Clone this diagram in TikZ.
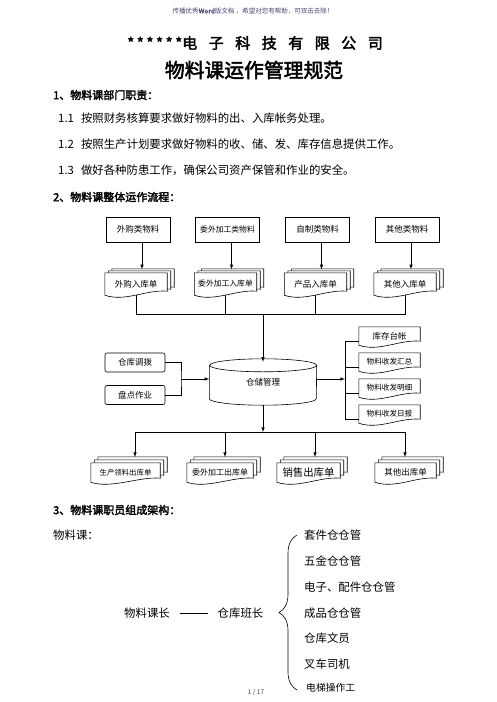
\documentclass[tikz,border=0pt]{standalone}
\usepackage{fontspec}
\setmainfont{Noto Sans CJK SC}[AutoFakeBold=2.5]
\usetikzlibrary{positioning,decorations.pathreplacing}
\definecolor{tipblue}{RGB}{70,70,120}
\pgfdeclarelayer{bg}
\pgfsetlayers{bg,main}
\tikzstyle{hd}=[font=\fontsize{6.5}{8}\selectfont,text=tipblue,inner sep=0pt]
\tikzstyle{bd}=[font=\fontsize{11.4}{14}\selectfont,inner sep=0pt]
\tikzstyle{hx}=[font=\fontsize{11}{13}\selectfont\bfseries,inner sep=0pt]
\tikzstyle{bx}=[draw,semithick,minimum width=64pt,minimum height=25pt,inner sep=0pt,font=\fontsize{8.5}{10}\selectfont]
\tikzstyle{rbx}=[bx,rounded corners=2pt,minimum width=60pt,minimum height=19pt]
\tikzstyle{doc}=[inner sep=0pt,minimum width=62pt,minimum height=22pt,font=\fontsize{8.5}{10}\selectfont]
\tikzstyle{cy}=[inner sep=0pt,minimum width=107pt,minimum height=46pt,font=\fontsize{8.5}{10}\selectfont]
\tikzstyle{arr}=[->,>=latex,semithick]
% one sheet of a document shape, shifted by #2,#3
\newcommand{\docpath}[3]{%
  \draw[fill=white,semithick] ([xshift=#2,yshift=#3]#1.north west) -- ([xshift=#2,yshift=#3]#1.north east)
    -- ([xshift=#2,yshift=#3+4pt]#1.south east)
    .. controls ([xshift=#2-20pt,yshift=#3+6pt]#1.south east) and ([xshift=#2+20pt,yshift=#3-7pt]#1.south west)
    .. ([xshift=#2,yshift=#3]#1.south west) -- cycle;}
\newcommand{\mdoc}[3]{%
  \begin{pgfonlayer}{bg}
    \docpath{#1}{#2*2}{#3*2}
    \docpath{#1}{#2}{#3}
    \docpath{#1}{0pt}{0pt}
  \end{pgfonlayer}}
\newcommand{\st}{*\hspace{2.6pt}}

\begin{document}
\begin{tikzpicture}[x=1pt,y=-1pt]
        \begin{pgfonlayer}{bg}
            \path[fill=white,use as bounding box] (0,0) rectangle (496,702);
        \end{pgfonlayer}
        \node[hd] (hdr) at (253,11) {传播优秀\textbf{Word}版文档 ，希望对您有帮助，可双击去除！};
        \node[font=\fontsize{15}{18}\selectfont\bfseries,inner sep=0pt] (t1) at (255,43)
            {\st\st\st\st\st*电\hspace{11.5pt}子\hspace{11.5pt}科\hspace{11.5pt}技\hspace{11.5pt}有\hspace{11.5pt}限\hspace{11.5pt}公\hspace{11.5pt}司};
        \node[font=\fontsize{19.8}{22}\selectfont\bfseries,inner sep=0pt] (t2) at (254,70) {物料课运作管理规范};
        \node[hx,anchor=west] (h1) at (53,95) {1、物料课部门职责：};
        \node[bd,anchor=west] (l1) at (58,118) {1.1\hspace{7pt}按照财务核算要求做好物料的出、入库帐务处理。};
        \node[bd,anchor=west] (l2) at (58,144) {1.2\hspace{7pt}按照生产计划要求做好物料的收、储、发、库存信息提供工作。};
        \node[bd,anchor=west] (l3) at (58,170) {1.3\hspace{7pt}做好各种防患工作，确保公司资产保管和作业的安全。};
        \node[hx,anchor=west] (h2) at (53,197) {2、物料课整体运作流程：};

        \node[bx] (wg) at (138,229.5) {外购类物料};
        \node[bx,font=\fontsize{7.8}{10}\selectfont] (ww) at (227.5,229.5) {委外加工类物料};
        \node[bx] (zz) at (317.5,229.5) {自制类物料};
        \node[bx] (qt) at (407,229.5) {其他类物料};

        \node[doc] (d1) at (136,284) {外购入库单};
        \node[doc,font=\fontsize{7.8}{10}\selectfont] (d2) at (225.5,284) {委外加工入库单};
        \node[doc] (d3) at (315.5,284) {产品入库单};
        \node[doc] (d4) at (405,284) {其他入库单};
        \foreach \d in {d1,d2,d3,d4} \mdoc{\d}{3.5pt}{2pt};
        \draw[arr] ([xshift=4pt]wg.south) -- ++(0,27);
        \draw[arr] ([xshift=4pt]ww.south) -- ++(0,27);
        \draw[arr] ([xshift=4pt]zz.south) -- ++(0,27);
        \draw[arr] ([xshift=4pt]qt.south) -- ++(0,27);

        \coordinate (jm) at (263,314);
        \draw[semithick] (d1.south) -- (d1.south |- jm) -- (d4.south |- jm) -- (d4.south);
        \draw[semithick] (d2.south) -- (d2.south |- jm);
        \draw[semithick] (d3.south) -- (d3.south |- jm);

        \node[cy] (cyl) at (263,382) {仓储管理};
        \draw[semithick] ([yshift=-6.5pt]cyl.north west) -- ([yshift=6.5pt]cyl.south west)
            arc[start angle=180,end angle=360,x radius=53.5pt,y radius=6.5pt]
            -- ([yshift=-6.5pt]cyl.north east)
            arc[start angle=0,end angle=360,x radius=53.5pt,y radius=6.5pt];
        \draw[arr] (jm) -- ([yshift=-3pt]cyl.north);

        \node[rbx] (db) at (135,362.5) {仓库调拨};
        \node[rbx] (pd) at (135,395) {盘点作业};
        \coordinate (jl) at (181,379);
        \draw[semithick] (db.east) -| (jl) |- (pd.east);
        \draw[arr] (jl) -- (jl -| cyl.west);

        \node[doc,minimum width=61pt,minimum height=18pt] (r1) at (389.5,336) {库存台帐};
        \node[doc,minimum width=61pt,minimum height=18pt,font=\fontsize{7.6}{10}\selectfont] (r2) at (389.5,362) {物料收发汇总};
        \node[doc,minimum width=61pt,minimum height=18pt,font=\fontsize{7.6}{10}\selectfont] (r3) at (389.5,388) {物料收发明细};
        \node[doc,minimum width=61pt,minimum height=18pt,font=\fontsize{7.6}{10}\selectfont] (r4) at (389.5,414) {物料收发日报};
        \begin{pgfonlayer}{bg}
            \foreach \r in {r1,r2,r3,r4} \docpath{\r}{0pt}{0pt};
        \end{pgfonlayer}
        \coordinate (jr) at (345,379);
        \draw[arr] (jr -| cyl.east) -- (jr);
        \draw[semithick] ([yshift=-5pt]r1.west) -- ++(-14,0) |- ([yshift=-5pt]r4.west);
        \draw[semithick] ([yshift=-5pt]r2.west) -- ++(-14,0);
        \draw[semithick] ([yshift=-5pt]r3.west) -- ++(-14,0);

        \coordinate (jb) at (263,432);
        \draw[arr] (cyl.south) -- (jb);
        \coordinate (b1) at (135,432);
        \coordinate (b2) at (225,432);
        \coordinate (b3) at (315,432);
        \coordinate (b4) at (405,432);
        \draw[semithick] (b1) -- (b4);
        \foreach \b in {b1,b2,b3,b4} \draw[arr] (\b) -- ++(0,25);
        \node[doc,minimum width=69pt,minimum height=19pt,font=\fontsize{7.4}{10}\selectfont] (o1) at (125.5,472.5) {生产领料出库单};
        \node[doc,minimum width=66pt,minimum height=19pt,font=\fontsize{8}{10}\selectfont] (o2) at (220,472.5) {委外加工出库单};
        \node[doc,minimum width=63pt,minimum height=19pt,font=\fontsize{10.4}{12}\selectfont] (o3) at (308.5,472.5) {销售出库单};
        \node[doc,minimum width=61pt,minimum height=19pt] (o4) at (405.5,472.5) {其他出库单};
        \foreach \o in {o1,o2,o3,o4} \mdoc{\o}{3.5pt}{3pt};

        \node[hx,anchor=west] (h3) at (53,510) {3、物料课职员组成架构：};
        \node[bd,anchor=west] (wk) at (53,535) {物料课：};
        \node[bd,inner xsep=9.5pt] (kz) at (147,613) {物料课长};
        \node[bd,inner xsep=9.5pt] (bz) at (240.5,613) {仓库班长};
        \draw[semithick] (kz) -- (bz);
        \coordinate (bt) at (297,535);
        \coordinate (bb) at (297,690);
        \draw[semithick,decorate,decoration={brace,amplitude=18pt}] (bb) -- (bt);
        \node[bd,anchor=west] (m1) at (304,535) {套件仓仓管};
        \node[bd,anchor=west] (m2) at (304,561) {五金仓仓管};
        \node[bd,anchor=west] (m3) at (304,587) {电子、配件仓仓管};
        \node[bd,anchor=west] (m4) at (304,613) {成品仓仓管};
        \node[bd,anchor=west] (m5) at (304,638) {仓库文员};
        \node[bd,anchor=west] (m6) at (304,664) {叉车司机};
        \node[bd,anchor=west,font=\fontsize{9.8}{12}\selectfont] (m7) at (306,688) {电梯操作工};
        \node[hd] (pg) at (256,692) {1 / 17};
    \end{tikzpicture}
\end{document}
